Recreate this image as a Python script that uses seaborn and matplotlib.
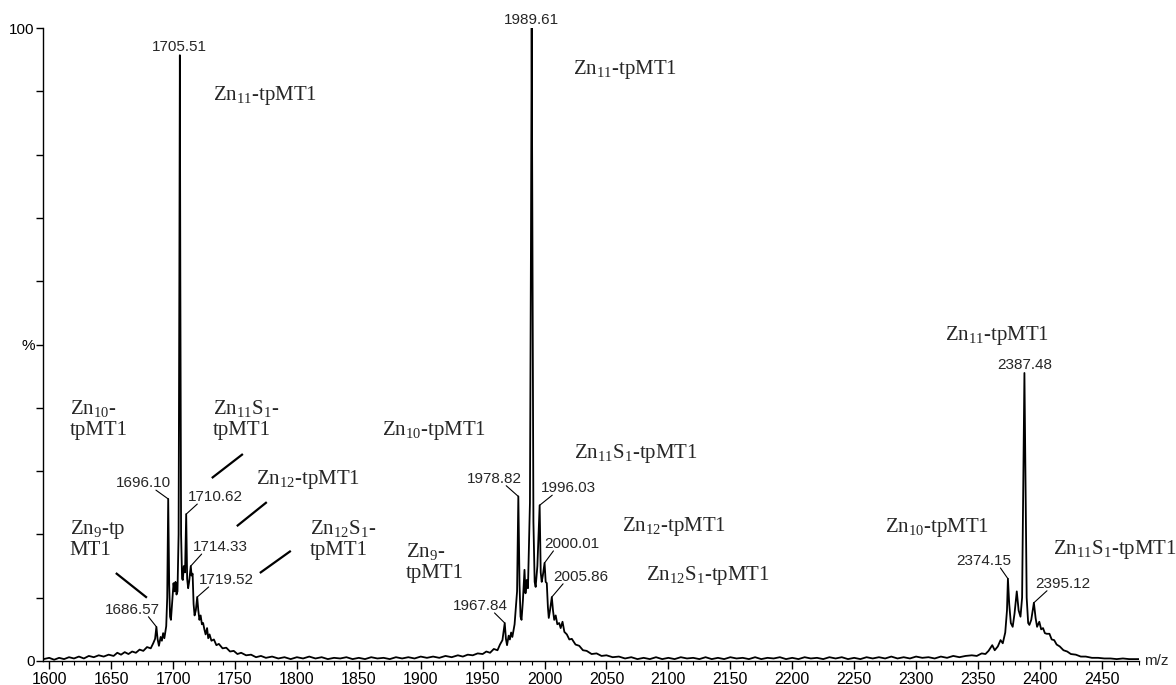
import matplotlib
matplotlib.use("Agg")
import matplotlib.pyplot as plt
from matplotlib.ticker import MultipleLocator
import numpy as np
import pandas as pd
import seaborn as sns

# spectrum trace (m/z, relative intensity %)
base_left_mz = [1595.5, 1600, 1604, 1608, 1612, 1616, 1620, 1624, 1628, 1632, 1636, 1640,
                1644, 1648, 1652, 1655, 1658, 1661, 1664, 1667, 1670, 1673, 1676, 1679, 1682]
base_left_int = [0.3, 0.5, 0.2, 0.5, 0.3, 0.6, 0.4, 0.7, 0.4, 0.8, 0.6, 0.9,
                 0.7, 1.0, 0.8, 1.3, 1.0, 1.4, 1.1, 1.5, 1.3, 1.8, 1.6, 2.2, 2.0]

cluster1_mz = [1684, 1685.5, 1686.57, 1687.5, 1688.6, 1690, 1691, 1692, 1693, 1694.5, 1695.3,
               1696.1, 1696.9, 1697.6, 1698.3, 1699.2, 1700.4, 1701.2, 1702, 1702.8, 1703.6,
               1704.5, 1705.1, 1705.51, 1705.9, 1706.5, 1707.3, 1707.9, 1708.7, 1709.7,
               1710.62, 1711.4, 1712.2, 1713, 1714.33, 1715, 1715.8, 1716.6, 1717.4, 1718.4,
               1719.52, 1720.4, 1721.3, 1722.3, 1723.3, 1724.3, 1725.3, 1726.3, 1727.5, 1728.4,
               1729.5, 1731, 1733, 1735, 1737, 1740, 1743, 1746, 1749, 1752, 1755, 1759, 1763,
               1767, 1771, 1775]
cluster1_int = [2.8, 3.5, 5.4, 3.5, 2.4, 3.8, 3.2, 4.4, 3.6, 5.5, 10,
                25.6, 12, 7.0, 6.5, 9.0, 12.3, 11, 12.5, 10.5, 11,
                20, 60, 95.7, 60, 20, 13, 12.8, 15, 14,
                23.2, 13, 11.5, 12.5, 15, 13.5, 13.8, 9.0, 7.2, 8.0,
                10.1, 8.0, 6.5, 7.2, 5.8, 6.0, 5.0, 4.2, 5.2, 3.6,
                4.2, 3.2, 3.4, 2.5, 2.7, 2.0, 2.1, 1.5, 1.6, 1.1, 1.3, 0.9, 1.0,
                0.6, 0.8, 0.5]

base_mid1_mz = [1780, 1785, 1790, 1795, 1800, 1805, 1810, 1815, 1820, 1825, 1830, 1835, 1840,
                1845, 1850, 1855, 1860, 1865, 1870, 1875, 1880, 1885, 1890, 1895, 1900, 1905,
                1910, 1915, 1920, 1925]
base_mid1_int = [0.7, 0.4, 0.6, 0.3, 0.6, 0.4, 0.7, 0.4, 0.6, 0.3, 0.5, 0.4, 0.6,
                 0.3, 0.5, 0.3, 0.6, 0.4, 0.5, 0.3, 0.6, 0.4, 0.6, 0.4, 0.7, 0.5,
                 0.7, 0.5, 0.8, 0.6]

cluster2_mz = [1930, 1934, 1938, 1942, 1946, 1950, 1953, 1956, 1959, 1962, 1964, 1966,
               1967.84, 1968.8, 1969.7, 1971, 1972, 1973, 1974, 1975.8, 1977.8, 1978.82,
               1979.8, 1980.6, 1981.4, 1982.5, 1983.8, 1984.6, 1985.6, 1986.6, 1988.2, 1989.0,
               1989.61, 1990.2, 1991, 1992, 1992.8, 1994.2, 1996.03, 1996.9, 1997.7, 1998.6,
               2000.01, 2000.9, 2001.8, 2002.7, 2003.4, 2004.4, 2005.86, 2006.8, 2007.8, 2009,
               2010.3, 2011.8, 2013, 2014.5, 2016, 2018, 2020, 2022, 2025, 2028, 2031, 2034,
               2038, 2042, 2046, 2050, 2055]
cluster2_int = [0.9, 0.7, 1.0, 0.9, 1.2, 1.1, 1.5, 1.3, 1.9, 1.7, 2.6, 3.3,
                6.0, 3.5, 2.5, 4.0, 3.4, 4.5, 3.8, 5.8, 11, 26.0,
                12, 7.0, 6.5, 9.5, 14.4, 10.7, 12.8, 11.5, 25, 65,
                100, 65, 22, 12.5, 11.7, 15, 24.6, 14, 12.5, 13.5,
                15.5, 12.5, 12.3, 8.5, 6.8, 8.0, 10.1, 8.0, 6.5, 7.2,
                5.8, 6.0, 5.2, 6.2, 4.6, 4.2, 3.4, 3.5, 2.6, 2.4, 1.7, 1.6,
                1.1, 1.2, 0.8, 0.9, 0.6]

base_mid2_mz = [2060, 2065, 2070, 2075, 2080, 2085, 2090, 2095, 2100, 2105, 2110, 2115, 2120,
                2125, 2130, 2135, 2140, 2145, 2150, 2155, 2160, 2165, 2170, 2175, 2180, 2185,
                2190, 2195, 2200, 2205, 2210, 2215, 2220, 2225, 2230, 2235, 2240, 2245, 2250,
                2255, 2260, 2265, 2270, 2275, 2280, 2285, 2290, 2295, 2300, 2305, 2310, 2315,
                2320, 2325, 2330, 2335, 2340]
base_mid2_int = [0.7, 0.4, 0.6, 0.3, 0.5, 0.3, 0.6, 0.3, 0.5, 0.3, 0.6, 0.4, 0.5,
                 0.3, 0.6, 0.3, 0.5, 0.3, 0.6, 0.4, 0.5, 0.3, 0.6, 0.3, 0.5, 0.4,
                 0.6, 0.3, 0.5, 0.3, 0.6, 0.4, 0.5, 0.3, 0.6, 0.4, 0.6, 0.3, 0.5,
                 0.3, 0.6, 0.4, 0.6, 0.4, 0.7, 0.4, 0.6, 0.4, 0.7, 0.5, 0.6, 0.4,
                 0.7, 0.5, 0.8, 0.6, 0.8]

cluster3_mz = [2345, 2349, 2353, 2356, 2358.5, 2361.5, 2363.5, 2366, 2368.2, 2370, 2372,
               2373.4, 2374.15, 2375.2, 2376.5, 2378, 2379.5, 2381.3, 2382.8, 2384.3, 2385.6,
               2386.7, 2387.48, 2388.3, 2389.3, 2390.5, 2391.5, 2393, 2395.12, 2396.5, 2397.7,
               2399.5, 2401, 2402.5, 2404, 2405.5, 2407.7, 2409.5, 2411.5, 2413.5, 2416, 2419,
               2422, 2425, 2429, 2433, 2437, 2442, 2447, 2452, 2457, 2462, 2467, 2472, 2477,
               2480]
cluster3_int = [0.9, 0.8, 1.2, 1.1, 1.6, 2.5, 1.7, 2.3, 3.3, 2.8, 4.5,
                8.0, 13.0, 9.0, 6.0, 5.4, 7.5, 11.0, 8.0, 7.0, 10,
                30, 45.5, 30, 10, 6.0, 5.7, 6.5, 9.2, 6.8, 5.4,
                6.2, 5.0, 5.2, 4.4, 4.3, 4.3, 3.4, 3.3, 2.6, 2.3, 1.7,
                1.5, 1.1, 1.0, 0.7, 0.7, 0.5, 0.5, 0.4, 0.4, 0.3, 0.4, 0.3, 0.3,
                0.3]

# labelled peaks
top_peaks = ["1705.51", "1989.61", "2387.48"]
side_peaks = ["1686.57", "1696.10", "1710.62", "1714.33", "1719.52",
              "1967.84", "1978.82", "1996.03", "2000.01", "2005.86",
              "2374.15", "2395.12"]
# where each side label sits (m/z, %) and where its leader leaves the label
side_label_pos = [(1666.8, 8.1), (1676.4, 28.1), (1733.8, 25.9), (1738.2, 18.0), (1743.0, 12.8),
                  (1948.5, 8.7), (1959.7, 28.8), (2019.1, 27.3), (2022.3, 18.5), (2029.2, 13.3),
                  (2354.8, 15.8), (2418.6, 12.2)]
side_label_rel = [0.8, 0.72, 0.18, 0.16, 0.18, 0.75, 0.71, 0.21, 0.16, 0.18, 0.8, 0.21]

# species annotations (Times-like) and their baseline positions
species = ["Zn$_{11}$-tpMT1", "Zn$_{11}$-tpMT1", "Zn$_{11}$-tpMT1",
           "Zn$_{10}$-\ntpMT1", "Zn$_{11}$S$_{1}$-\ntpMT1", "Zn$_{12}$-tpMT1",
           "Zn$_{9}$-tp\nMT1", "Zn$_{12}$S$_{1}$-\ntpMT1",
           "Zn$_{10}$-tpMT1", "Zn$_{11}$S$_{1}$-tpMT1", "Zn$_{12}$-tpMT1",
           "Zn$_{9}$-\ntpMT1", "Zn$_{12}$S$_{1}$-tpMT1",
           "Zn$_{10}$-tpMT1", "Zn$_{11}$S$_{1}$-tpMT1"]
species_pos = [(1732.1, 88.6), (2022.7, 92.7), (2323.7, 50.7),
               (1616.7, 39.0), (1732.1, 39.0), (1766.9, 28.0),
               (1616.7, 20.1), (1810.4, 20.1),
               (1868.5, 35.7), (2023.5, 32.1), (2062.2, 20.5),
               (1887.9, 16.4), (2081.6, 12.8),
               (2275.3, 20.4), (2410.9, 16.9)]
# thick pointer strokes in the first cluster
pointers = [((1731.3, 28.9), (1756.4, 32.7)), ((1751.5, 21.3), (1775.7, 25.1)),
            ((1653.8, 13.9), (1678.9, 10.0)), ((1770.1, 13.9), (1795.1, 17.4))]

mz = base_left_mz + cluster1_mz + base_mid1_mz + cluster2_mz + base_mid2_mz + cluster3_mz
intensity = base_left_int + cluster1_int + base_mid1_int + cluster2_int + base_mid2_int + cluster3_int
df = pd.DataFrame({"mz": mz, "intensity": intensity})

sns.set_style("ticks")
plt.rcParams["font.family"] = ["Liberation Sans", "DejaVu Sans"]
plt.rcParams["mathtext.fontset"] = "custom"
plt.rcParams["mathtext.rm"] = "Liberation Serif"
plt.rcParams["mathtext.it"] = "Liberation Serif:italic"
plt.rcParams["mathtext.bf"] = "Liberation Serif:bold"

fig = plt.figure(figsize=(11.76, 6.85), dpi=100)
ax = fig.add_axes([43 / 1176, 24 / 685, 1096 / 1176, 633 / 685])

sns.lineplot(data=df, x="mz", y="intensity", ax=ax, color="black", lw=1.3,
             estimator=None, sort=False)

ax.set_xlim(1595, 2480)
ax.set_ylim(0, 100)
ax.set_xlabel("")
ax.set_ylabel("")
sns.despine(ax=ax)
for s in ["left", "bottom"]:
    ax.spines[s].set_color("black")
    ax.spines[s].set_linewidth(1)

ax.xaxis.set_major_locator(MultipleLocator(50))
ax.xaxis.set_minor_locator(MultipleLocator(10))
ax.tick_params(axis="x", which="major", length=6, width=1, labelsize=11.5, pad=2, colors="black")
ax.tick_params(axis="x", which="minor", length=3, width=0.8, colors="black")
ax.set_yticks(np.arange(0, 101, 10))
ax.set_yticklabels(["0", "", "", "", "", "%", "", "", "", "", "100"])
ax.tick_params(axis="y", length=5, width=1, labelsize=11, pad=1, colors="black")
ax.text(2484, 0, "m/z", fontsize=11, va="center", ha="left")

peak_x = np.array(mz)
peak_y = np.array(intensity)

for lab in top_peaks:
    x = float(lab)
    h = np.interp(x, peak_x, peak_y)
    ax.text(x, h + 0.2, lab, ha="center", va="bottom", fontsize=11)

for lab, (lx, ly), rx in zip(side_peaks, side_label_pos, side_label_rel):
    x = float(lab)
    h = np.interp(x, peak_x, peak_y)
    ax.annotate(lab, xy=(x, h), xytext=(lx, ly), ha="center", va="center", fontsize=11,
                arrowprops=dict(arrowstyle="-", lw=0.8, color="black", relpos=(rx, 0),
                                shrinkA=0, shrinkB=0, patchA=None))

line_gap = 21 / 6.33
for txt, (sx, sy) in zip(species, species_pos):
    for i, line in enumerate(txt.split("\n")):
        ax.text(sx, sy - i * line_gap, line, family="Liberation Serif", fontsize=15,
                ha="left", va="baseline", clip_on=False)

for (x0, y0), (x1, y1) in pointers:
    ax.plot([x0, x1], [y0, y1], color="black", lw=1.6, solid_capstyle="butt")

fig.savefig("out.png", dpi=100)
